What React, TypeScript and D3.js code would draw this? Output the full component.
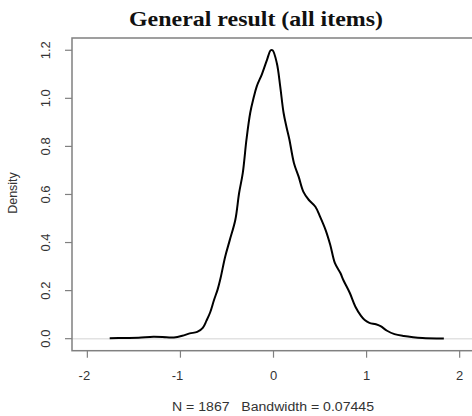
import * as d3 from "d3";

// density estimate (x value, density)
const xs = [
  -1.76, -1.6, -1.45, -1.29, -1.15, -1.07, -0.98, -0.9, -0.82, -0.76, -0.72,
  -0.68, -0.64, -0.6, -0.57, -0.52, -0.47, -0.41, -0.37, -0.33, -0.29, -0.25,
  -0.215, -0.18, -0.125, -0.07, -0.03, -0.01, 0.036, 0.072, 0.108, 0.14, 0.17,
  0.22, 0.27, 0.32, 0.38, 0.45, 0.5, 0.56, 0.61, 0.66, 0.72, 0.75, 0.82, 0.88,
  0.94, 0.98, 1.03, 1.1, 1.15, 1.22, 1.3, 1.4, 1.5, 1.6, 1.83,
];
const dens = [
  0.002, 0.003, 0.004, 0.008, 0.006, 0.005, 0.012, 0.022, 0.028, 0.045, 0.075,
  0.11, 0.16, 0.205, 0.25, 0.34, 0.41, 0.495, 0.605, 0.69, 0.83, 0.94, 1.0,
  1.05, 1.1, 1.16, 1.2, 1.2, 1.146, 1.05, 0.94, 0.88, 0.83, 0.73, 0.674, 0.612,
  0.577, 0.549, 0.508, 0.452, 0.39, 0.314, 0.272, 0.244, 0.19, 0.133, 0.095,
  0.078, 0.066, 0.06, 0.052, 0.033, 0.019, 0.011, 0.006, 0.003, 0.001,
];
const xTicks = [-2, -1, 0, 1, 2];
const yTicks = [0, 0.2, 0.4, 0.6, 0.8, 1.0, 1.2];

const title = "General result (all items)";
const xLabel = "N = 1867   Bandwidth = 0.07445";
const yLabel = "Density";

const W = 472;
const H = 416;
const plot = { left: 72, top: 38, right: 482, bottom: 350.7 };

export default function App() {
  const x = d3.scaleLinear().domain([-2.165, 2.24]).range([plot.left, plot.right]);
  const y = d3.scaleLinear().domain([-0.05, 1.251]).range([plot.bottom, plot.top]);

  const pts: [number, number][] = xs.map((v, i) => [v, dens[i]]);
  const line = d3
    .line<[number, number]>()
    .x((d) => x(d[0]))
    .y((d) => y(d[1]))
    .curve(d3.curveCatmullRom.alpha(0.5));

  const axisCol = "#808080";
  const labCol = "#333";
  const font = "Liberation Sans, Arial, sans-serif";

  return (
    <svg
      width={W}
      height={H}
      style={{ position: "fixed", left: 0, top: 0, background: "#fff" }}
    >
      <defs>
        <clipPath id="pa">
          <rect x={plot.left} y={plot.top} width={plot.right - plot.left} height={plot.bottom - plot.top} />
        </clipPath>
      </defs>
      <text
        x={256}
        y={26}
        textAnchor="middle"
        fontFamily="Liberation Serif, Times New Roman, serif"
        fontWeight="bold"
        fontSize={22}
        textLength={254}
        lengthAdjust="spacingAndGlyphs"
        fill="#111"
      >
        {title}
      </text>

      {/* zero line */}
      <line
        x1={plot.left}
        x2={plot.right}
        y1={y(0)}
        y2={y(0)}
        stroke="#e2e2e2"
        strokeWidth={1.5}
      />

      <path
        d={line(pts) ?? ""}
        fill="none"
        stroke="#000"
        strokeWidth={2}
        strokeLinejoin="round"
        clipPath="url(#pa)"
      />

      {/* box */}
      <rect
        x={plot.left}
        y={plot.top}
        width={plot.right - plot.left}
        height={plot.bottom - plot.top}
        fill="none"
        stroke={axisCol}
        strokeWidth={1.5}
      />

      {xTicks.map((t) => (
        <g key={"x" + t}>
          <line x1={x(t)} x2={x(t)} y1={plot.bottom} y2={plot.bottom + 7} stroke={axisCol} strokeWidth={1.2} />
          <text
            x={x(t) - (t < 0 ? 3 : 0)}
            y={379.5}
            textAnchor="middle"
            fontFamily={font}
            fontSize={13}
            fill={labCol}
          >
            {t}
          </text>
        </g>
      ))}

      {yTicks.map((t) => (
        <g key={"y" + t}>
          <line x1={plot.left - 7} x2={plot.left} y1={y(t)} y2={y(t)} stroke={axisCol} strokeWidth={1.2} />
          <text
            transform={`translate(${49.5},${y(t)}) rotate(-90)`}
            textAnchor="middle"
            fontFamily={font}
            fontSize={13}
            fill={labCol}
          >
            {t.toFixed(1)}
          </text>
        </g>
      ))}

      <text
        x={273}
        y={410.5}
        textAnchor="middle"
        fontFamily={font}
        fontSize={12.5}
        textLength={202}
        lengthAdjust="spacingAndGlyphs"
        fill={labCol}
        style={{ whiteSpace: "pre" }}
      >
        {xLabel}
      </text>
      <text
        transform={`translate(17,193) rotate(-90)`}
        textAnchor="middle"
        fontFamily={font}
        fontSize={12.5}
        fill={labCol}
      >
        {yLabel}
      </text>
    </svg>
  );
}
